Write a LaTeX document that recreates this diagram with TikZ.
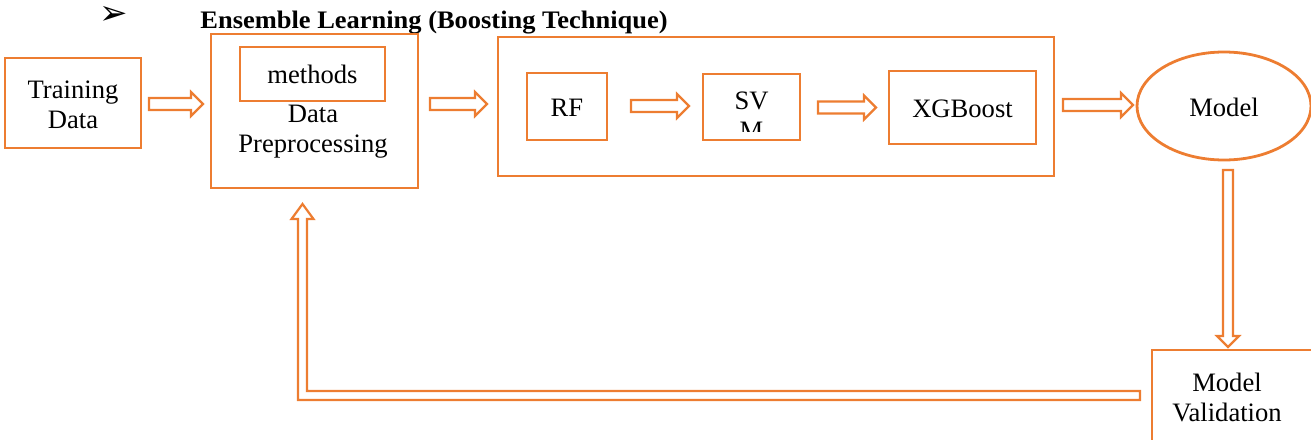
\documentclass[tikz,border=0pt]{standalone}
\usepackage{fontspec}
\setmainfont{Liberation Serif}
\newfontfamily\dejavu{DejaVu Sans}
\usetikzlibrary{calc,shapes.geometric}
\definecolor{orng}{HTML}{ED7D31}
\newcommand\tx[1]{\setlength\tabcolsep{0pt}\begin{tabular}{c}#1\end{tabular}}
\newcommand\harr[2]{\draw[arr] ($(#1)+(0,-6)$) -- ($(#2)+(-12,-6)$) -- ($(#2)+(-12,-12)$) -- (#2) -- ($(#2)+(-12,12)$) -- ($(#2)+(-12,6)$) -- ($(#1)+(0,6)$) -- cycle;}
\begin{document}
\begin{tikzpicture}[x=0.5pt,y=-0.5pt,
  box/.style={draw=orng,line width=1.4pt,inner sep=0pt},
  lbl/.style={inner sep=0pt,font=\fontsize{13.3}{15}\selectfont},
  txt/.style={lbl,yshift=-2pt},
  arr/.style={draw=orng,line width=1.1pt,fill=white}]
\useasboundingbox (0,0) rectangle (1311,439);
\clip (0,0) rectangle (1311,439);
% title
\node[inner sep=0pt,anchor=base,font=\dejavu\fontsize{17}{18}\selectfont] (bul) at (114,25) {➢};
\node[inner sep=0pt,anchor=base west,font=\bfseries\fontsize{12.6}{15}\selectfont] (title) at (200,28) {\scalebox{1.05}[1]{Ensemble Learning (Boosting Technique)}};
% boxes
\node[box,minimum width=68pt,minimum height=45pt] (td) at (73,103) {};
\node[txt] (tdt) at (td.center) {\tx{Training\\Data}};
\node[box,minimum width=103.5pt,minimum height=77pt] (dp) at (314.5,111) {};
\node[txt] (dpt) at (313,127) {\tx{Data\\Preprocessing}};
\node[box,minimum width=72.5pt,minimum height=27pt] (meth) at (312.5,74) {};
\node[txt] (metht) at (meth.center) {\tx{methods}};
\node[box,minimum width=278pt,minimum height=69.5pt] (big) at (776,106.5) {};
\node[box,minimum width=40pt,minimum height=33.5pt] (rf) at (567,106.5) {};
\node[txt] (rft) at (rf.center) {\tx{RF}};
\node[box,minimum width=48.5pt,minimum height=33pt] (svm) at (751.5,107) {};
\begin{scope}
\clip (700,74) rectangle (800,131);
\node[txt] (svmt) at (751.5,114) {\tx{SV\\M}};
\end{scope}
\node[box,minimum width=73.5pt,minimum height=36.5pt] (xg) at (962.5,107.5) {};
\node[txt] (xgt) at (xg.center) {\tx{XGBoost}};
\node[box,ellipse,inner sep=0pt,minimum width=87pt,minimum height=54pt] (model) at (1224,106) {};
\node[txt] (modelt) at (model.center) {\tx{Model}};
\node[box,minimum width=88pt,minimum height=50pt] (mv) at (1240,400) {};
\node[txt] (mvt) at (1227,396) {\tx{Model\\Validation}};
% arrow coordinates
\coordinate (a1s) at (149,104); \coordinate (a1e) at (203,104);
\coordinate (a2s) at (430,104); \coordinate (a2e) at (487,104);
\coordinate (a3s) at (631,106); \coordinate (a3e) at (689,106);
\coordinate (a4s) at (818,107.5); \coordinate (a4e) at (876,107.5);
\coordinate (a5s) at (1063,105); \coordinate (a5e) at (1133,105);
\harr{a1s}{a1e}
\harr{a2s}{a2e}
\harr{a3s}{a3e}
\harr{a4s}{a4e}
\harr{a5s}{a5e}
% down arrow model -> validation
\coordinate (dns) at (1228,170); \coordinate (dne) at (1228,347);
\draw[arr] ($(dns)+(-5,0)$) -- ($(dne)+(-5,-11)$) -- ($(dne)+(-11,-11)$) -- (dne) -- ($(dne)+(11,-11)$) -- ($(dne)+(5,-11)$) -- ($(dns)+(5,0)$) -- cycle;
% feedback arrow validation -> preprocessing
\coordinate (fbs) at (1140,395.5); \coordinate (fbc) at (302.5,395.5); \coordinate (fbe) at (302.5,204);
\draw[arr] ($(fbs)+(0,4.5)$) -- ($(fbc)+(-4.5,4.5)$) -- ($(fbe)+(-4.5,15)$) -- ($(fbe)+(-11,15)$) -- (fbe) -- ($(fbe)+(11,15)$) -- ($(fbe)+(4.5,15)$) -- ($(fbc)+(4.5,-4.5)$) -- ($(fbs)+(0,-4.5)$) -- cycle;
\end{tikzpicture}
\end{document}
